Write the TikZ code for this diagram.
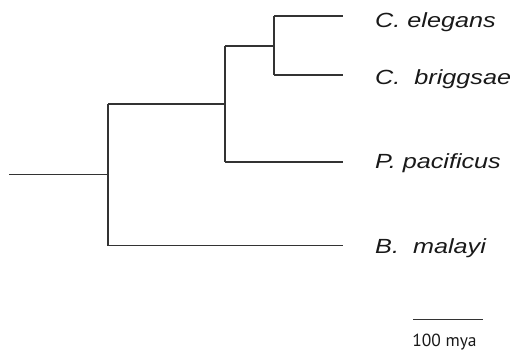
\documentclass[tikz,border=0pt]{standalone}
\usepackage{fontspec}
\newfontfamily\taxfont[FakeStretch=1.23]{Liberation Sans}
\newfontfamily\barfont{PT Sans}
\begin{document}
\begin{tikzpicture}[x=1pt,y=-1pt,
  branch/.style={draw=black!80,line width=1.2pt},
  taxon/.style={anchor=base west,inner sep=0pt,font=\taxfont\itshape\fontsize{20.5}{24}\selectfont,text=black!90},
  scalelbl/.style={anchor=base,inner sep=0pt,font=\barfont\fontsize{17.5}{20}\selectfont,text=black!90}]
\useasboundingbox (0,0) rectangle (510,352);
% coordinates
\coordinate (root) at (9,174.5);
\coordinate (n1) at (108,174.5);
\coordinate (n1t) at (108,104);
\coordinate (n1b) at (108,245.5);
\coordinate (n2) at (225,104);
\coordinate (n2t) at (225,46);
\coordinate (n2b) at (225,162);
\coordinate (n3) at (274,46);
\coordinate (n3t) at (274,16);
\coordinate (n3b) at (274,75);
\coordinate (tce) at (343,16);
\coordinate (tcb) at (343,75);
\coordinate (tpp) at (343,162);
\coordinate (tbm) at (343,245.5);
\coordinate (sb1) at (413,319.5);
\coordinate (sb2) at (483,319.5);
% tree
\draw[branch] (root) -- (n1);
\draw[branch] (n1t) -- (n1b);
\draw[branch] (n1t) -- (n2);
\draw[branch] (n1b) -- (tbm);
\draw[branch] (n2t) -- (n2b);
\draw[branch] (n2t) -- (n3);
\draw[branch] (n2b) -- (tpp);
\draw[branch] (n3t) -- (n3b);
\draw[branch] (n3t) -- (tce);
\draw[branch] (n3b) -- (tcb);
% labels
\node[taxon] (ce) at (375,27.3) {C. elegans};
\node[taxon] (cb) at (375,85) {C.\ \ briggsae};
\node[taxon] (pp) at (375,168.3) {P. pacificus};
\node[taxon] (bm) at (375,253.3) {B.\ \ malayi};
% scale bar
\draw[branch] (sb1) -- (sb2);
\node[scalelbl] (sl) at (444.5,346.7) {100 mya};
\end{tikzpicture}
\end{document}
